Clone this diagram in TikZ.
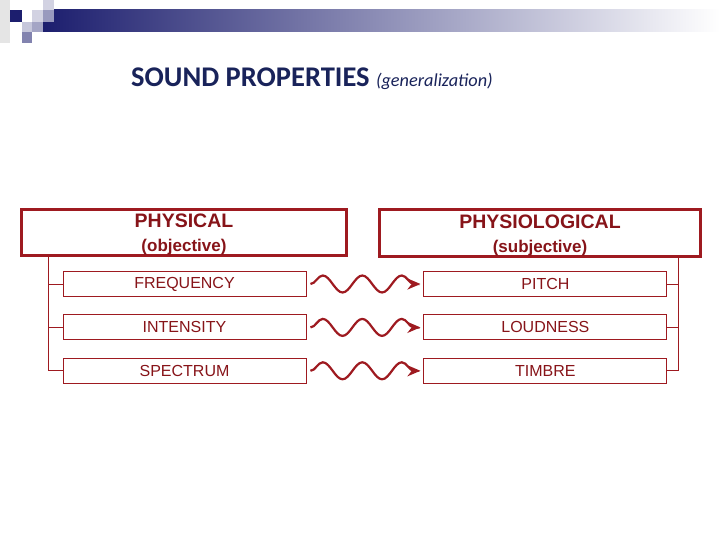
\documentclass[tikz,border=0pt]{standalone}
\usepackage{fontspec}
\setmainfont{Liberation Sans}
\newfontfamily\titlefont{Carlito}
\usepackage{xcolor}
\usetikzlibrary{positioning,arrows.meta,decorations.pathmorphing}
\definecolor{boxred}{RGB}{158,26,32}
\definecolor{textred}{RGB}{135,20,25}
\definecolor{titleblue}{RGB}{25,35,90}
\definecolor{barblue}{RGB}{28,30,110}

\begin{document}
\begin{tikzpicture}[x=1pt,y=-1pt,
    headbox/.style={draw=boxred, line width=3.2pt, inner sep=0pt, align=center,
      text=textred, font=\bfseries\fontsize{17}{24}\selectfont},
    propbox/.style={draw=boxred, line width=0.9pt, minimum width=243pt,
      minimum height=25pt, inner sep=0pt, text=textred,
      font=\fontsize{16}{18}\selectfont},
    link/.style={draw=boxred, line width=0.9pt},
    wave/.style={boxred, line width=2.2pt, -{Stealth[length=13pt,width=11pt]},
      decorate, decoration={snake, segment length=39.5pt, amplitude=8.5pt, post length=4pt}}]
    \useasboundingbox[fill=white] (0,0) rectangle (720,540);

    % Corner ornament and bar
    \fill[black!10] (0,0) rectangle (10,43);
    \shade[left color=barblue, right color=white] (43,10) rectangle (720,32);
    \fill[barblue!20] (43,0) rectangle (54,10);
    \fill[barblue!20] (32,10) rectangle (43,22);
    \fill[barblue!45] (43,10) rectangle (54,22);
    \fill[barblue] (10,10) rectangle (22,22);
    \fill[barblue!25] (22,22) rectangle (32,32);
    \fill[barblue!40] (32,22) rectangle (43,32);
    \fill[barblue!55] (22,32) rectangle (32,43);

    % Title
    \node[anchor=base west, inner sep=0pt, text=titleblue,
      font=\titlefont\bfseries\fontsize{28.5}{30}\selectfont] (title) at (131,86.5)
      {SOUND PROPERTIES {\fontsize{18.3}{20}\selectfont\mdseries\itshape (generalization)}};

    % Headers
    \node[headbox, minimum width=325pt, minimum height=46pt] (phys) at (184,232.5)
      {\rule{0pt}{18pt}{\fontsize{19.5}{20}\selectfont PHYSICAL}\\(objective)};
    \node[headbox, minimum width=321pt, minimum height=47pt] (physio) at (540,233)
      {\rule{0pt}{19pt}{\fontsize{19.5}{20}\selectfont PHYSIOLOGICAL}\\(subjective)};

    % Physical properties
    \node[propbox] (freq) at (184.5,284) {FREQUENCY};
    \node[propbox, below=17.5pt of freq] (inten) {INTENSITY};
    \node[propbox, below=17.5pt of inten] (spec) {SPECTRUM};

    % Physiological properties
    \node[propbox, right=117pt of freq] (pitch) {PITCH};
    \node[propbox, right=117pt of inten] (loud) {LOUDNESS};
    \node[propbox, right=117pt of spec] (timbre) {TIMBRE};

    % Brackets
    \coordinate (lfork) at ([xshift=29pt]phys.south west);
    \coordinate (rfork) at ([xshift=-24pt]physio.south east);
    \draw[link] (lfork) |- (spec.west);
    \draw[link] (lfork |- freq.west) -- (freq.west);
    \draw[link] (lfork |- inten.west) -- (inten.west);
    \draw[link] (rfork) |- (timbre.east);
    \draw[link] (rfork |- pitch.east) -- (pitch.east);
    \draw[link] (rfork |- loud.east) -- (loud.east);

    % Wavy arrows
    \draw[wave] ([xshift=4pt]freq.east) -- ([xshift=-3pt]pitch.west);
    \draw[wave] ([xshift=4pt]inten.east) -- ([xshift=-3pt]loud.west);
    \draw[wave] ([xshift=4pt]spec.east) -- ([xshift=-3pt]timbre.west);
\end{tikzpicture}
\end{document}
